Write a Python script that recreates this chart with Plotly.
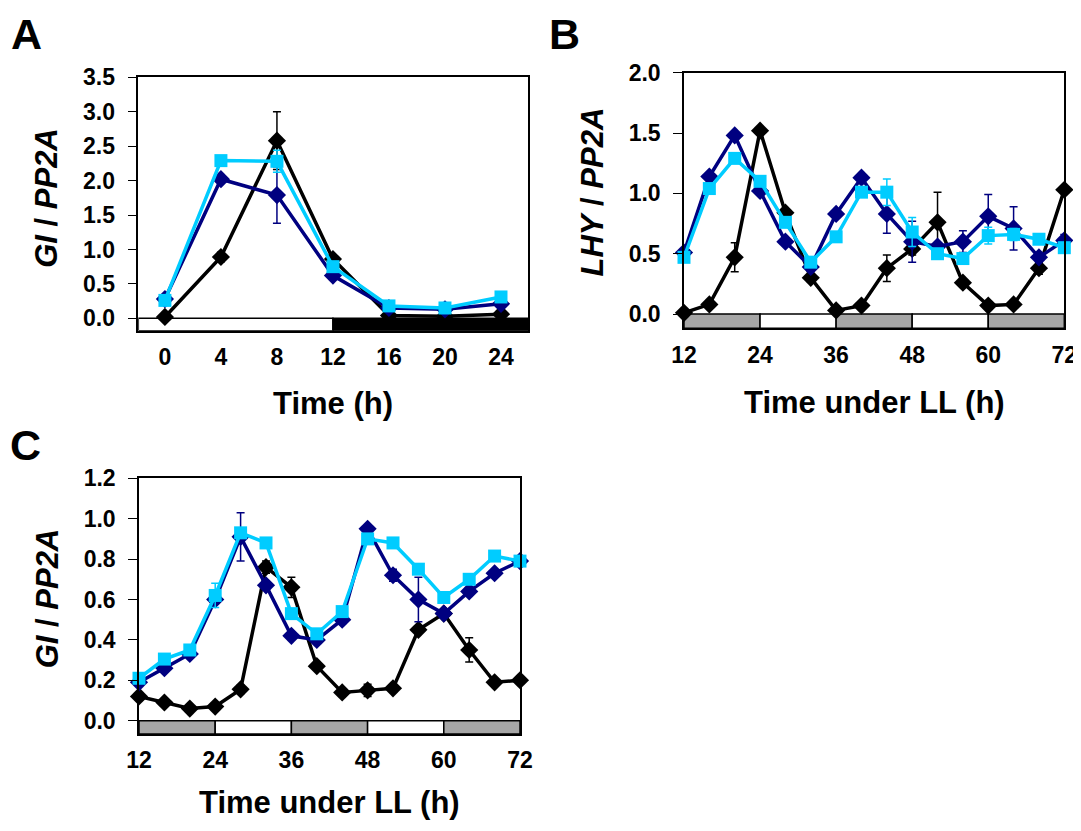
import plotly.graph_objects as go

# ---------------- Panel A: GI / PP2A, Time (h) ----------------
a_time = [0, 4, 8, 12, 16, 20, 24]
a_black = [0.02, 0.89, 2.58, 0.86, 0.04, 0.03, 0.06]
a_black_err = [0.0, 0.07, 0.42, 0.05, 0.0, 0.0, 0.0]
a_navy = [0.28, 2.02, 1.79, 0.62, 0.15, 0.13, 0.21]
a_navy_err = [0.02, 0.05, 0.41, 0.03, 0.01, 0.01, 0.02]
a_cyan = [0.26, 2.29, 2.28, 0.75, 0.18, 0.15, 0.31]
a_cyan_err = [0.02, 0.03, 0.16, 0.04, 0.02, 0.01, 0.03]
a_xticks = [0, 4, 8, 12, 16, 20, 24]
a_yticks = [0.0, 0.5, 1.0, 1.5, 2.0, 2.5, 3.0, 3.5]
a_period_edges = [-1.9, 12, 25.95]
a_period_fill = ["white", "black"]

# ---------------- Panel B: LHY / PP2A, Time under LL ----------------
b_time = [12, 16, 20, 24, 28, 32, 36, 40, 44, 48, 52, 56, 60, 64, 68, 72]
b_black = [0.01, 0.08, 0.47, 1.52, 0.84, 0.30, 0.03, 0.07, 0.38, 0.54, 0.76, 0.26, 0.07, 0.08, 0.38, 1.03]
b_black_err = [0, 0, 0.12, 0, 0.03, 0.03, 0, 0, 0.11, 0.05, 0.25, 0, 0, 0, 0.05, 0]
b_navy = [0.51, 1.14, 1.48, 1.02, 0.60, 0.39, 0.83, 1.13, 0.83, 0.60, 0.56, 0.60, 0.81, 0.71, 0.47, 0.61]
b_navy_err = [0, 0.02, 0.02, 0.02, 0.02, 0.02, 0.02, 0.02, 0.16, 0.17, 0.02, 0.09, 0.18, 0.18, 0.02, 0.05]
b_cyan = [0.47, 1.04, 1.29, 1.10, 0.76, 0.43, 0.64, 1.01, 1.01, 0.68, 0.50, 0.46, 0.65, 0.66, 0.62, 0.55]
b_cyan_err = [0, 0.02, 0.02, 0.02, 0.02, 0.02, 0.02, 0.02, 0.11, 0.12, 0.02, 0.02, 0.07, 0.05, 0.02, 0.02]
b_xticks = [12, 24, 36, 48, 60, 72]
b_yticks = [0.0, 0.5, 1.0, 1.5, 2.0]
b_period_edges = [12, 24, 36, 48, 60, 72]
b_period_fill = ["#a6a6a6", "white", "#a6a6a6", "white", "#a6a6a6"]

# ---------------- Panel C: GI / PP2A, Time under LL ----------------
c_time = [12, 16, 20, 24, 28, 32, 36, 40, 44, 48, 52, 56, 60, 64, 68, 72]
c_black = [0.12, 0.09, 0.06, 0.07, 0.155, 0.76, 0.66, 0.27, 0.14, 0.15, 0.16, 0.45, 0.53, 0.35, 0.19, 0.20]
c_black_err = [0.01, 0.0, 0.0, 0.0, 0.02, 0.03, 0.05, 0.0, 0.0, 0.03, 0.0, 0.0, 0.02, 0.06, 0.0, 0.02]
c_navy = [0.19, 0.26, 0.33, 0.60, 0.91, 0.67, 0.42, 0.40, 0.50, 0.95, 0.72, 0.60, 0.53, 0.64, 0.73, 0.79]
c_navy_err = [0, 0.01, 0.01, 0.02, 0.12, 0.02, 0.01, 0.01, 0.02, 0.01, 0.03, 0.11, 0.01, 0.01, 0.01, 0.01]
c_cyan = [0.21, 0.305, 0.35, 0.62, 0.93, 0.88, 0.53, 0.43, 0.54, 0.90, 0.88, 0.75, 0.61, 0.70, 0.815, 0.79]
c_cyan_err = [0, 0.01, 0.01, 0.06, 0.02, 0.01, 0.01, 0.01, 0.01, 0.01, 0.01, 0.01, 0.01, 0.01, 0.01, 0.01]
c_xticks = [12, 24, 36, 48, 60, 72]
c_yticks = [0.0, 0.2, 0.4, 0.6, 0.8, 1.0, 1.2]
c_period_edges = [12, 24, 36, 48, 60, 72]
c_period_fill = ["#a6a6a6", "white", "#a6a6a6", "white", "#a6a6a6"]

BLACK = "#000000"
NAVY = "#000080"
CYAN = "#00ccff"
FONT = "Liberation Sans, Arial, sans-serif"

# page body has an 8px margin: size the figure to fit the 1081x831 window
PAGE_W, PAGE_H, BODY = 1081, 831, 8
W, H = PAGE_W - BODY, PAGE_H - 2 * BODY


def px_x(X):
    return (X - BODY) / W


def px_y(Y):
    return (H - (Y - BODY)) / H


fig = go.Figure()


def add_series(xref, yref, t, vals, errs, color, symbol, size):
    fig.add_trace(go.Scatter(
        x=t, y=vals, mode="lines+markers",
        line=dict(color=color, width=3.5),
        marker=dict(symbol=symbol, size=size, color=color),
        error_y=dict(type="data", array=errs, visible=True, color=color,
                     thickness=1.5, width=4),
        xaxis=xref, yaxis=yref, cliponaxis=False, showlegend=False,
    ))


for xr, yr, t, bk, bke, nv, nve, cy, cye in [
    ("x", "y", a_time, a_black, a_black_err, a_navy, a_navy_err, a_cyan, a_cyan_err),
    ("x2", "y2", b_time, b_black, b_black_err, b_navy, b_navy_err, b_cyan, b_cyan_err),
    ("x3", "y3", c_time, c_black, c_black_err, c_navy, c_navy_err, c_cyan, c_cyan_err),
]:
    add_series(xr, yr, t, bk, bke, BLACK, "diamond", 14)
    add_series(xr, yr, t, nv, nve, NAVY, "diamond", 14)
    add_series(xr, yr, t, cy, cye, CYAN, "square", 13)

A_YMIN, B_YMIN, C_YMIN = -0.18, -0.118, -0.066

shapes = []
for xr, yr, edges, fills, ymin in [
    ("x", "y", a_period_edges, a_period_fill, A_YMIN),
    ("x2", "y2", b_period_edges, b_period_fill, B_YMIN),
    ("x3", "y3", c_period_edges, c_period_fill, C_YMIN),
]:
    for i, fc in enumerate(fills):
        shapes.append(dict(type="rect", xref=xr, yref=yr,
                           x0=edges[i], x1=edges[i + 1], y0=ymin, y1=0,
                           fillcolor=fc, line=dict(color="black", width=1.5),
                           layer="below"))

tickfont = dict(family=FONT, size=23, color="black", weight="bold")


def xaxis(x0, x1, rng, ticks, anchor):
    return dict(domain=[px_x(x0), px_x(x1)], range=rng, tickvals=ticks,
                ticktext=[str(v) for v in ticks],
                showline=True, mirror=True, linecolor="black", linewidth=1.5,
                ticks="", showgrid=False, zeroline=False, tickfont=tickfont,
                anchor=anchor, ticklabelstandoff=5, automargin=False)


def yaxis(y_top, y_bottom, rng, ticks, anchor):
    return dict(domain=[px_y(y_bottom), px_y(y_top)], range=rng, tickvals=ticks,
                ticktext=["%.1f" % v for v in ticks],
                showline=True, mirror=True, linecolor="black", linewidth=1.5,
                ticks="outside", ticklen=9, tickwidth=1.2, tickcolor="black",
                showgrid=False, zeroline=False, tickfont=tickfont,
                anchor=anchor, ticklabelstandoff=8, automargin=False)


fig.update_layout(
    width=W, height=H,
    margin=dict(l=0, r=0, t=0, b=0, pad=0, autoexpand=False),
    paper_bgcolor="white", plot_bgcolor="white",
    xaxis=xaxis(138.3, 528.3, [-1.9, 25.95], a_xticks, "y"),
    yaxis=yaxis(77.3, 330.7, [A_YMIN, 3.5], a_yticks, "x"),
    xaxis2=xaxis(684, 1064.3, [12, 72], b_xticks, "y2"),
    yaxis2=yaxis(72.7, 328.3, [B_YMIN, 2.0], b_yticks, "x2"),
    xaxis3=xaxis(139, 520, [12, 72], c_xticks, "y3"),
    yaxis3=yaxis(478.3, 734, [C_YMIN, 1.2], c_yticks, "x3"),
    shapes=shapes,
)

ann_font = dict(family=FONT, size=31, color="black")
letter_font = dict(family=FONT, size=43, color="black")
annotations = [
    dict(text="<b>A</b>", X=26, Y=BODY, font=letter_font, yanchor="top"),
    dict(text="<b>B</b>", X=564, Y=BODY, font=letter_font, yanchor="top"),
    dict(text="<b>C</b>", X=25, Y=445, font=letter_font),
    dict(text="<b>Time (h)</b>", X=333, Y=403, font=ann_font),
    dict(text="<b>Time under LL (h)</b>", X=874, Y=402.5, font=ann_font),
    dict(text="<b>Time under LL (h)</b>", X=329.5, Y=802.5, font=ann_font),
    dict(text="<b><i>GI</i> / <i>PP2A</i></b>", X=47, Y=197.8, textangle=-90, font=ann_font),
    dict(text="<b><i>LHY</i> / <i>PP2A</i></b>", X=592, Y=192.5, textangle=-90, font=ann_font),
    dict(text="<b><i>GI</i> / <i>PP2A</i></b>", X=47, Y=598.3, textangle=-90, font=ann_font),
]
for a in annotations:
    X, Y = a.pop("X"), a.pop("Y")
    a.setdefault("yanchor", "middle")
    a.update(x=px_x(X), y=px_y(Y), xref="paper", yref="paper", showarrow=False,
             xanchor="center")
fig.update_layout(annotations=annotations)

fig.write_html("out.html")
